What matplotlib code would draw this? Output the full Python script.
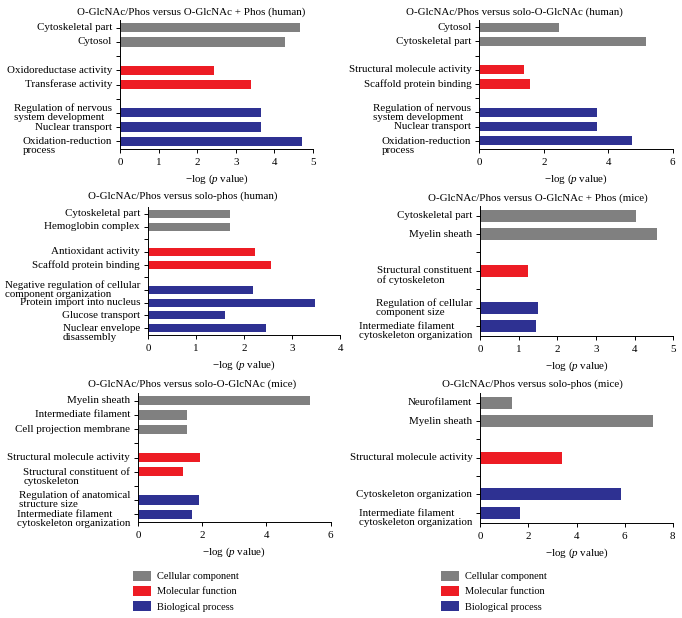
import matplotlib
matplotlib.use("Agg")
import matplotlib.pyplot as plt
import matplotlib.transforms as mtransforms
from matplotlib.patches import Patch

plt.rcParams['font.family'] = ['Liberation Serif', 'DejaVu Serif']
plt.rcParams['mathtext.fontset'] = 'custom'
plt.rcParams['mathtext.rm'] = 'Liberation Serif'
plt.rcParams['mathtext.it'] = 'Liberation Serif:italic'

FS = 7.9
C_CC = "#808080"
C_MF = "#ed1c24"
C_BP = "#2e3192"

# ---------------- data ----------------
p1_title = "O-GlcNAc/Phos versus O-GlcNAc + Phos (human)"
p1_cc = ["Cytoskeletal part", "Cytosol"]
p1_cc_v = [4.67, 4.27]
p1_mf = ["Oxidoreductase activity", "Transferase activity"]
p1_mf_v = [2.44, 3.40]
p1_bp = ["Regulation of nervous\nsystem development", "Nuclear transport", "Oxidation-reduction\nprocess"]
p1_bp_v = [3.64, 3.64, 4.72]
p1_ticks = [0, 1, 2, 3, 4, 5]

p2_title = "O-GlcNAc/Phos versus solo-O-GlcNAc (human)"
p2_cc = ["Cytosol", "Cytoskeletal part"]
p2_cc_v = [2.48, 5.17]
p2_mf = ["Structural molecule activity", "Scaffold protein binding"]
p2_mf_v = [1.40, 1.57]
p2_bp = ["Regulation of nervous\nsystem development", "Nuclear transport", "Oxidation-reduction\nprocess"]
p2_bp_v = [3.64, 3.64, 4.73]
p2_ticks = [0, 2, 4, 6]

p3_title = "O-GlcNAc/Phos versus solo-phos (human)"
p3_cc = ["Cytoskeletal part", "Hemoglobin complex"]
p3_cc_v = [1.71, 1.71]
p3_mf = ["Antioxidant activity", "Scaffold protein binding"]
p3_mf_v = [2.23, 2.55]
p3_bp = ["Negative regulation of cellular\ncomponent organization", "Protein import into nucleus",
         "Glucose transport", "Nuclear envelope\ndisassembly"]
p3_bp_v = [2.19, 3.48, 1.60, 2.46]
p3_ticks = [0, 1, 2, 3, 4]

p4_title = "O-GlcNAc/Phos versus O-GlcNAc + Phos (mice)"
p4_cc = ["Cytoskeletal part", "Myelin sheath"]
p4_cc_v = [4.04, 4.58]
p4_mf = ["Structural constituent\nof cytoskeleton"]
p4_mf_v = [1.23]
p4_bp = ["Regulation of cellular\ncomponent size", "Intermediate filament\ncytoskeleton organization"]
p4_bp_v = [1.49, 1.45]
p4_ticks = [0, 1, 2, 3, 4, 5]

p5_title = "O-GlcNAc/Phos versus solo-O-GlcNAc (mice)"
p5_cc = ["Myelin sheath", "Intermediate filament", "Cell projection membrane"]
p5_cc_v = [5.37, 1.52, 1.52]
p5_mf = ["Structural molecule activity", "Structural constituent of\ncytoskeleton"]
p5_mf_v = [1.92, 1.41]
p5_bp = ["Regulation of anatomical\nstructure size", "Intermediate filament\ncytoskeleton organization"]
p5_bp_v = [1.89, 1.69]
p5_ticks = [0, 2, 4, 6]

p6_title = "O-GlcNAc/Phos versus solo-phos (mice)"
p6_cc = ["Neurofilament", "Myelin sheath"]
p6_cc_v = [1.33, 7.17]
p6_mf = ["Structural molecule activity"]
p6_mf_v = [3.38]
p6_bp = ["Cytoskeleton organization", "Intermediate filament\ncytoskeleton organization"]
p6_bp_v = [5.87, 1.65]
p6_ticks = [0, 2, 4, 6, 8]

legend_labels = ["Cellular component", "Molecular function", "Biological process"]

# ---------------- layout (pixels) ----------------
W, H = 682, 618
fig = plt.figure(figsize=(W / 100, H / 100), dpi=100)


def add_axes_px(left, right, top, bottom):
    return fig.add_axes([left / W, 1 - bottom / H, (right - left) / W, (bottom - top) / H])


panels = [
    (p1_title, p1_cc, p1_cc_v, p1_mf, p1_mf_v, p1_bp, p1_bp_v, p1_ticks,
     (120, 313, 20, 149), (191.5, 11.7)),
    (p2_title, p2_cc, p2_cc_v, p2_mf, p2_mf_v, p2_bp, p2_bp_v, p2_ticks,
     (479.3, 672.7, 19.5, 148.5), (514, 11.7)),
    (p3_title, p3_cc, p3_cc_v, p3_mf, p3_mf_v, p3_bp, p3_bp_v, p3_ticks,
     (148, 340.3, 207, 335), (182.5, 195.7)),
    (p4_title, p4_cc, p4_cc_v, p4_mf, p4_mf_v, p4_bp, p4_bp_v, p4_ticks,
     (480.3, 673.3, 205.6, 336), (537.5, 198.3)),
    (p5_title, p5_cc, p5_cc_v, p5_mf, p5_mf_v, p5_bp, p5_bp_v, p5_ticks,
     (138, 330.7, 393, 522), (192.5, 384)),
    (p6_title, p6_cc, p6_cc_v, p6_mf, p6_mf_v, p6_bp, p6_bp_v, p6_ticks,
     (480.3, 672.7, 392.6, 522.7), (532.7, 384)),
]

LINESP = 1.03
LABEL_GAP_PX = 8.0
HALF_LINE_PX = 5.0

for (title, cc, ccv, mf, mfv, bp, bpv, xt, box, tpos) in panels:
    ax = add_axes_px(*box)
    n = len(cc) + len(mf) + len(bp) + 2
    pos = 0
    for group, vals, col in ((cc, ccv, C_CC), (mf, mfv, C_MF), (bp, bpv, C_BP)):
        ys = list(range(pos, pos + len(group)))
        ax.barh(ys, vals, height=0.65, color=col, edgecolor='none')
        for i, (y, lab) in enumerate(zip(ys, group)):
            last = (i == len(group) - 1) and ("\n" in lab)
            dy = -HALF_LINE_PX if last else 0.0
            tr = ax.get_yaxis_transform() + mtransforms.ScaledTranslation(
                -LABEL_GAP_PX / 100, dy / 100, fig.dpi_scale_trans)
            ax.text(0, y, lab, transform=tr, ha='right', va='center',
                    multialignment='left', linespacing=LINESP, fontsize=FS)
        pos += len(group) + 1
    ax.set_yticks(range(n))
    ax.set_yticklabels([])
    ax.set_ylim(n - 0.45, -0.55)
    ax.set_xlim(xt[0], xt[-1])
    ax.set_xticks(xt)
    ax.set_xticklabels([str(t) for t in xt], fontsize=FS)
    for s in ('top', 'right'):
        ax.spines[s].set_visible(False)
    for s in ('left', 'bottom'):
        ax.spines[s].set_linewidth(0.7)
    ax.tick_params(axis='y', length=3, width=0.7, pad=2.5)
    ax.tick_params(axis='x', length=3, width=0.7, pad=3.5)
    ax.set_xlabel("\u2212log ($\\mathit{p}$ value)", fontsize=FS, labelpad=4)
    fig.text(tpos[0] / W, 1 - tpos[1] / H, title, fontsize=FS, ha='center', va='center')

handles = [Patch(facecolor=c, edgecolor='none') for c in (C_CC, C_MF, C_BP)]
for x0 in (133, 441):
    fig.legend(handles, legend_labels, loc='upper left',
               bbox_to_anchor=(x0 / W, 1 - 570.5 / H), frameon=False, fontsize=7.5,
               handlelength=1.7, handleheight=1.1, handletextpad=0.58,
               labelspacing=0.45, borderaxespad=0, borderpad=0)

fig.savefig("out.png", dpi=100)
